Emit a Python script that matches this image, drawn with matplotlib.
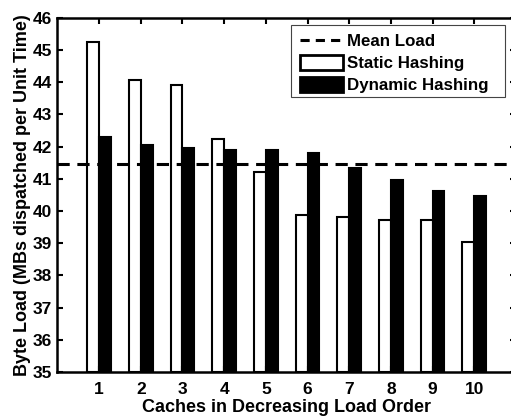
import matplotlib
matplotlib.use("Agg")
import matplotlib.pyplot as plt
import numpy as np
from matplotlib.lines import Line2D
from matplotlib.patches import Patch, Rectangle

caches = [1, 2, 3, 4, 5, 6, 7, 8, 9, 10]
static_hashing = [45.26, 44.06, 43.90, 42.23, 41.20, 39.86, 39.80, 39.71, 39.71, 39.03]
dynamic_hashing = [42.30, 42.05, 41.95, 41.90, 41.90, 41.81, 41.35, 40.97, 40.62, 40.47]
mean_load = 41.47

plt.rcParams['font.family'] = ['Liberation Sans', 'DejaVu Sans']
plt.rcParams['font.weight'] = 'bold'

W, H = 511, 416
fig = plt.figure(figsize=(W / 100, H / 100), dpi=100)
ax = fig.add_axes([0.1125, 0.106, 0.897, 0.851])

x = np.array(caches, dtype=float)
group_w = 2 / 3.5
bw = group_w / 2
edge_lw = 1.5

ax.bar(x - bw / 2, np.array(static_hashing) - 35, bw, bottom=35,
       facecolor='white', edgecolor='black', linewidth=edge_lw)
ax.bar(x + bw / 2, np.array(dynamic_hashing) - 35, bw, bottom=35,
       facecolor='black', edgecolor='black', linewidth=edge_lw)
ax.plot([0, 11], [mean_load, mean_load], color='black', linestyle=(0, (4, 2.5)),
        linewidth=2.2)

ax.set_xlim(0, 11)
ax.set_ylim(35, 46)
ax.set_xticks(caches)
ax.set_yticks(range(35, 47))
ax.tick_params(direction='in', length=4, width=1.5, top=True, right=True,
               labelsize=12.5)
ax.tick_params(axis='x', pad=7)
ax.tick_params(axis='y', pad=4)
for s in ax.spines.values():
    s.set_linewidth(1.8)

ax.set_xlabel('Caches in Decreasing Load Order', fontsize=13,
              fontweight='bold', labelpad=2)
ax.set_ylabel('Byte Load (MBs dispatched per Unit Time)', fontsize=13,
              fontweight='bold', labelpad=1)

handles = [
    Line2D([0], [0], color='black', linestyle=(0, (3, 2)), linewidth=2.2),
    Patch(facecolor='white', edgecolor='black', linewidth=2),
    Patch(facecolor='black', edgecolor='black', linewidth=2),
]
labels = ['Mean Load', 'Static Hashing', 'Dynamic Hashing']
leg = fig.legend(handles, labels, loc='upper left',
                 bbox_to_anchor=(300 / W, 1 - 33 / H),
                 prop={'size': 12.2, 'weight': 'bold'},
                 handlelength=2.55, handleheight=1.0, handletextpad=0.2,
                 labelspacing=0.33, borderpad=0, borderaxespad=0,
                 frameon=False)
# legend box
fig.add_artist(Rectangle((291 / W, 1 - 97 / H), (505 - 291) / W, (97 - 25) / H,
                         transform=fig.transFigure, facecolor='white',
                         edgecolor='#444444', linewidth=0.8, zorder=4))
leg.set_zorder(5)

fig.savefig('out.png', dpi=100)
